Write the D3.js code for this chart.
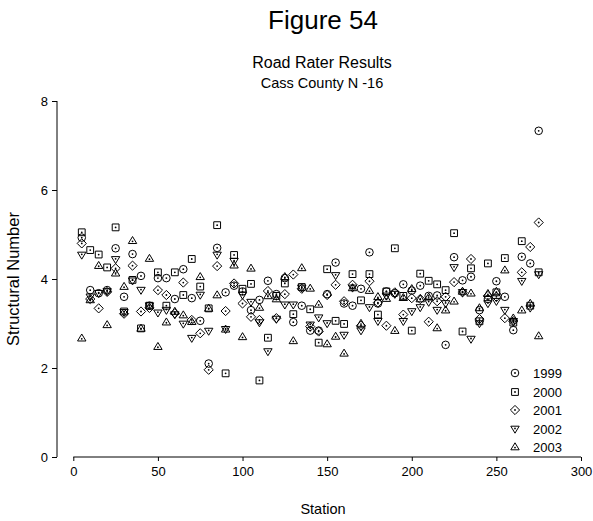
<!DOCTYPE html>
<html><head><meta charset="utf-8">
<script src="https://cdn.jsdelivr.net/npm/d3@7"></script>
<style>body{margin:0;background:#fff}svg text{font-family:Arial,"Liberation Sans",sans-serif;fill:#000}</style>
</head><body><svg id="c" width="593" height="521"></svg>
<script>
const stations = [5,10,15,20,25,30,35,40,45,50,55,60,65,70,75,80,85,90,95,100,105,110,115,120,125,130,135,140,145,150,155,160,165,170,175,180,185,190,195,200,205,210,215,220,225,230,235,240,245,250,255,260,265,270,275];
const y1999 = [4.93,3.75,3.68,3.75,4.69,3.60,4.56,4.07,3.40,4.02,4.02,3.55,4.22,3.57,3.06,2.10,4.70,3.70,3.85,3.72,3.30,3.53,3.96,3.66,4.02,3.03,3.40,2.84,2.84,3.66,4.37,3.45,3.40,3.78,4.60,3.45,3.72,3.68,3.88,3.74,3.85,3.62,3.63,2.52,4.49,3.97,4.05,3.30,3.55,3.95,3.60,2.85,4.50,4.35,7.33];
const y2000 = [5.05,4.65,4.55,4.26,5.16,3.27,3.98,2.89,3.40,4.15,3.40,4.15,3.64,4.45,3.83,3.34,5.21,1.88,4.54,3.78,3.89,1.72,2.68,3.62,3.90,3.21,3.82,3.32,2.57,4.22,3.06,2.99,4.11,3.52,4.11,3.20,3.72,4.69,3.62,2.84,4.12,3.96,3.88,3.75,5.03,2.82,4.24,3.05,4.35,3.70,4.47,3.02,4.85,3.40,4.15];
const y2001 = [4.80,3.55,3.34,3.71,4.24,3.22,4.30,3.27,3.35,3.75,3.64,3.23,3.92,3.08,2.78,1.96,4.29,3.28,3.90,3.45,3.15,3.08,3.73,3.12,3.66,4.10,3.78,2.93,2.82,3.64,3.87,3.50,3.87,2.95,3.95,3.47,2.95,3.70,3.20,3.57,3.55,3.04,3.50,3.60,3.93,3.70,4.45,3.10,3.62,3.60,3.12,3.05,4.15,4.72,5.27];
const y2002 = [4.54,3.60,3.68,3.72,4.44,3.25,3.96,3.75,3.40,3.24,3.30,3.20,2.99,2.67,3.64,2.83,4.54,2.87,4.40,3.64,3.48,3.02,2.37,3.10,3.42,3.42,3.80,2.97,3.13,3.00,4.08,2.74,3.80,2.84,3.36,3.05,3.62,3.66,3.05,3.27,3.36,3.48,3.30,3.45,4.26,3.70,2.65,3.00,3.45,3.50,3.30,3.05,3.95,3.35,4.10];
const y2003 = [2.67,3.53,4.30,2.97,4.13,3.83,4.86,2.89,4.46,2.48,3.03,3.27,3.19,3.04,4.05,3.34,3.64,2.87,4.31,2.70,4.24,3.36,3.62,3.55,4.05,2.61,4.25,3.79,3.43,2.54,2.71,2.33,3.80,3.00,3.74,3.60,3.56,2.84,3.58,3.78,3.55,3.59,2.90,3.30,3.50,3.72,3.68,3.35,3.67,3.72,4.20,3.12,3.30,3.45,2.72];
const seriesNames = ["1999","2000","2001","2002","2003"];
const seriesValues = [y1999,y2000,y2001,y2002,y2003];
const xTicks = [0,50,100,150,200,250,300];
const yTicks = [0,2,4,6,8];

const svg = d3.select("#c");
const x = d3.scaleLinear().domain([0,300]).range([73.3,581]);
const y = d3.scaleLinear().domain([0,8]).range([457,101]);

function markerPath(k){
  switch(k){
    case 1: return "M-3.4,-3.4H3.4V3.4H-3.4Z";
    case 2: return "M0,-4.6L4.6,0L0,4.6L-4.6,0Z";
    case 3: return "M-4.2,-2.8H4.2L0,4.2Z";
    case 4: return "M-4.2,2.8H4.2L0,-4.2Z";
  }
  return null;
}
function drawMarker(g,k){
  if(k===0) g.append("circle").attr("r",3.8).attr("fill","none").attr("stroke","#000").attr("stroke-width",1);
  else g.append("path").attr("d",markerPath(k)).attr("fill","none").attr("stroke","#000").attr("stroke-width",1);
  g.append("circle").attr("r",0.9).attr("cy",k===3?-0.6:(k===4?0.6:0)).attr("fill","#000");
}

svg.append("text").attr("x",323).attr("y",29).attr("text-anchor","middle").attr("font-size",26).text("Figure 54");
svg.append("text").attr("x",322).attr("y",68).attr("text-anchor","middle").attr("font-size",16).text("Road Rater Results");
svg.append("text").attr("x",322).attr("y",88).attr("text-anchor","middle").attr("font-size",14.5).text("Cass County N -16");

const yAxis = d3.axisLeft(y).tickValues(yTicks).tickSize(5).tickPadding(4).tickFormat(d3.format("d"));
const gy = svg.append("g").attr("transform","translate(57,0)").call(yAxis);
const xAxis = d3.axisBottom(x).tickValues(xTicks).tickSize(4).tickPadding(6).tickFormat(d3.format("d"));
const gx = svg.append("g").attr("transform","translate(0,457)").call(xAxis);
[gx,gy].forEach(g=>{
  g.selectAll("text").attr("font-size",13).attr("font-family","Arial, 'Liberation Sans', sans-serif").attr("fill","#000");
  g.selectAll("line").attr("stroke","#000");
  g.select(".domain").attr("stroke","#000");
});
gy.select(".domain").attr("d","M0,"+y(0)+"V"+y(8));
gx.select(".domain").attr("d","M"+x(0)+",0H"+x(300));

svg.append("text").attr("x",323).attr("y",514).attr("text-anchor","middle").attr("font-size",14.5).text("Station");
svg.append("text").attr("transform","translate(19,279) rotate(-90)").attr("text-anchor","middle").attr("font-size",16.5).text("Structural Number");

seriesValues.forEach((vals,k)=>{
  const g = svg.append("g").attr("class","s"+k);
  vals.forEach((v,i)=>{
    if(v==null) return;
    const m = g.append("g").attr("transform","translate("+x(stations[i])+","+y(v)+")");
    drawMarker(m,k);
  });
});

const legY = [373,392,410,429,447];
seriesNames.forEach((n,k)=>{
  const m = svg.append("g").attr("transform","translate(515,"+legY[k]+")");
  drawMarker(m,k);
  svg.append("text").attr("x",533).attr("y",legY[k]+4.5).attr("font-size",13).text(n);
});
</script></body></html>
